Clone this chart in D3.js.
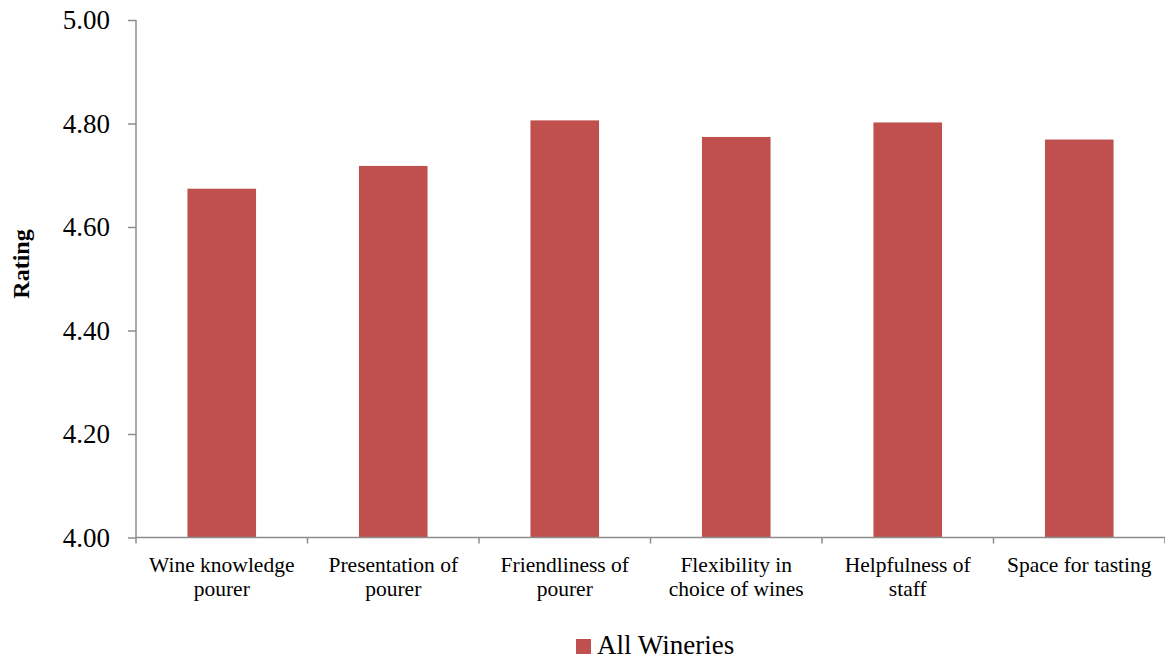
<!DOCTYPE html>
<html>
<head>
<meta charset="utf-8">
<script src="https://cdn.jsdelivr.net/npm/d3@7"></script>
<style>
  body { margin: 0; background: #fff; }
  text { font-family: "Liberation Serif", "DejaVu Serif", serif; fill: #000; }
</style>
</head>
<body>
<div class="chart"></div>
<script>
// data
var categories = [
  ["Wine knowledge", "pourer"],
  ["Presentation of", "pourer"],
  ["Friendliness of", "pourer"],
  ["Flexibility in", "choice of wines"],
  ["Helpfulness of", "staff"],
  ["Space for tasting"]
];
var ratings = [4.674, 4.718, 4.806, 4.774, 4.802, 4.769];
var yTicks = [4.0, 4.2, 4.4, 4.6, 4.8, 5.0];
var seriesName = "All Wineries";

var svgWidth = 1165;
var svgHeight = 660;

var margin = { top: 20, bottom: 122.5, right: 0, left: 136 };
var width = svgWidth - margin.left - margin.right;
var height = svgHeight - margin.top - margin.bottom;

var axisColor = "#8c8c8c";
var barColor = "#C0504D";

var svg = d3.select(".chart")
  .append("svg")
  .attr("width", svgWidth)
  .attr("height", svgHeight);

var chartGroup = svg.append("g")
  .attr("transform", `translate(${margin.left}, ${margin.top})`);

// scales
var idx = d3.range(categories.length);
var xBand = d3.scaleBand()
  .domain(idx)
  .range([0, width])
  .padding(0);

var yLinearScale = d3.scaleLinear()
  .domain([4, 5])
  .range([height, 0]);

// bars (40% of the band, centred)
var barW = xBand.bandwidth() * 0.4;
chartGroup.selectAll("rect.bar")
  .data(ratings)
  .enter()
  .append("rect")
  .attr("class", "bar")
  .attr("x", (d, i) => xBand(i) + (xBand.bandwidth() - barW) / 2)
  .attr("y", d => yLinearScale(d))
  .attr("width", barW)
  .attr("height", d => height - yLinearScale(d))
  .attr("fill", barColor);

// y axis
var yAxis = d3.axisLeft(yLinearScale)
  .tickValues(yTicks)
  .tickFormat(d3.format(".2f"))
  .tickSize(8)
  .tickPadding(18);

var yG = chartGroup.append("g").call(yAxis);
yG.select(".domain").attr("stroke", axisColor).attr("stroke-width", 1.5).attr("d", `M0,0V${height}`);
yG.selectAll(".tick line").attr("stroke", axisColor).attr("stroke-width", 1.5);
yG.selectAll(".tick text")
  .style("font-size", "27px")
  .attr("fill", "#000");

// x axis: baseline plus category dividers
var xG = chartGroup.append("g")
  .attr("transform", `translate(0, ${height})`);

xG.append("line")
  .attr("x1", 0)
  .attr("x2", width)
  .attr("stroke", axisColor)
  .attr("stroke-width", 1.5);

var dividers = d3.range(categories.length + 1).map(i => i * xBand.step());
xG.selectAll("line.div")
  .data(dividers)
  .enter()
  .append("line")
  .attr("class", "div")
  .attr("x1", d => d)
  .attr("x2", d => d)
  .attr("y1", 0)
  .attr("y2", 6)
  .attr("stroke", axisColor)
  .attr("stroke-width", 1.5);

var labels = xG.selectAll("text.cat")
  .data(categories)
  .enter()
  .append("text")
  .attr("class", "cat")
  .attr("text-anchor", "middle")
  .style("font-size", "21.5px")
  .attr("transform", (d, i) => `translate(${xBand(i) + xBand.bandwidth() / 2}, 34)`);

labels.selectAll("tspan")
  .data(d => d)
  .enter()
  .append("tspan")
  .attr("x", 0)
  .attr("y", (d, j) => j * 24)
  .text(d => d);

// y axis title
svg.append("text")
  .attr("transform", "translate(29, 264) rotate(-90)")
  .attr("text-anchor", "middle")
  .style("font-size", "24px")
  .style("font-weight", "bold")
  .text("Rating");

// legend
var legend = svg.append("g")
  .attr("transform", "translate(576, 639)");

legend.append("rect")
  .attr("width", 15)
  .attr("height", 15)
  .attr("fill", barColor);

legend.append("text")
  .attr("x", 21)
  .attr("y", 15)
  .style("font-size", "27px")
  .text(seriesName);
</script>
</body>
</html>
